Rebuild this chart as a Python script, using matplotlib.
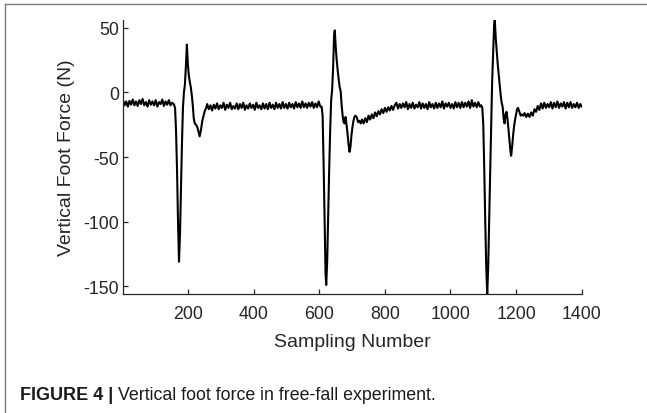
import numpy as np
import matplotlib
matplotlib.use("Agg")
import matplotlib.pyplot as plt
from matplotlib.lines import Line2D

plt.rcParams['font.family'] = ['Liberation Sans', 'DejaVu Sans']

# ---------------- data ----------------
# flat segment before first impact (sample 1..151, every 5 samples)
seg_a_start, seg_a_step = 1, 5
force_a = [-6, -10, -7, -11, -6.5, -9.5, -5.5, -10, -7, -10.5, -6, -9, -5, -10, -7.5, -11,
           -6, -9.5, -7, -10, -6, -11, -7.5, -9, -5.5, -10.5, -7, -9.5, -6, -10, -8]

# first impact
sample_s1 = [156, 160, 163, 166, 169, 172, 175, 178, 181, 184, 187, 190, 193, 196, 199,
             202, 205, 208, 211, 214, 217, 220, 224, 228, 232, 235, 239, 243, 247, 251, 255]
force_s1 = [-9, -12, -30, -60, -100, -131, -110, -75, -40, -12, 0, 6, 20, 37, 22,
            13, 8, 4, -2, -10, -20, -24, -25, -27, -31, -34, -29, -22, -18, -14, -12]

# flat segment between impacts 1 and 2 (sample 258..603)
seg_b_start, seg_b_step = 258, 5
force_b = [-9, -13, -10, -14, -9.5, -12.5, -8.5, -13, -10, -12, -8, -13.5, -9.5, -12, -8, -13, -10.5, -12.5, -8.5, -13,
           -9, -12, -8, -13.5, -10, -12.5, -8.5, -12, -9.5, -13.5, -8, -12, -10, -13, -8.5, -12.5, -9, -13, -8, -12,
           -9.5, -13, -8, -12, -9, -12.5, -7.5, -12, -9, -12.5, -8, -11.5, -9, -12.5, -7.5, -11.5, -8.5, -12, -7, -11.5,
           -8.5, -12, -8, -11, -7.5, -12, -8.5, -11.5, -7, -11]

# second impact
sample_s2 = [607, 610, 613, 616, 619, 621, 624, 627, 630, 633, 636, 639, 642, 645, 647, 650,
             653, 656, 659, 662, 665, 668, 671, 674, 677, 680, 683, 686, 689, 692, 695, 698,
             701, 704, 707, 710, 714, 718, 722, 726]
force_s2 = [-11, -18, -55, -100, -140, -149, -130, -95, -60, -30, -6, 2, 19, 44, 48, 35,
            25, 17, 10, 4, 1, -10, -18, -23, -24, -19, -25, -32, -40, -46, -42, -33,
            -27, -22, -19, -18, -19, -23, -22, -24]

# recovery + flat segment between impacts 2 and 3 (sample 730..1090)
seg_c_start, seg_c_step = 730, 5
force_c = [-21, -24, -20, -23, -18, -21, -17, -20, -15.5, -18.5, -14.5,
           -17, -13, -16, -12, -15, -11.5, -14, -10.5, -13.5, -10,
           -8, -12.5, -9, -12, -8.5, -11.5, -7.5, -13, -9, -12, -8, -12.5, -9.5, -11.5, -7.5, -12.5, -8.5, -12, -9, -13,
           -7.5, -11.5, -9, -12.5, -8, -12, -8.5, -11.5, -7, -12.5, -8.5, -11, -8, -12, -9, -12.5, -7.5, -11.5, -8, -12,
           -7.5, -11.5, -8, -11, -7, -12, -6, -11, -8, -11.5, -7.5, -11]

# third impact
sample_s3 = [1094, 1097, 1100, 1103, 1106, 1109, 1112, 1115, 1118, 1121, 1124, 1127, 1130, 1133,
             1135, 1138, 1141, 1144, 1147, 1150, 1153, 1156, 1159, 1162, 1165, 1168, 1171, 1174,
             1177, 1180, 1183, 1185, 1188, 1191, 1194, 1197, 1200, 1203, 1206, 1210, 1214, 1218, 1222]
force_s3 = [-10, -12, -25, -60, -100, -135, -156, -135, -100, -62, -25, 8, 30, 52,
            56, 42, 32, 22, 14, 6, -2, -8, -11, -20, -24, -17, -15, -21, -29, -38, -46, -49,
            -42, -33, -26, -21, -17, -13, -12, -15, -18, -17, -18]

# flat segment after the third impact (sample 1226..1396) and last sample
seg_d_start, seg_d_step = 1226, 5
force_d = [-16, -19, -16.5, -19, -15.5, -18, -13, -15, -10.5, -13.5, -8.5, -12.5, -8, -12, -9, -11.5, -7.5, -12.5,
           -8, -11.5, -7, -12, -8.5, -11, -7.5, -12.5, -8, -11.5, -7.5, -12, -9, -11.5, -8, -12, -9]
sample_end = [1400]
force_end = [-11]

x_ticks = [200, 400, 600, 800, 1000, 1200, 1400]
y_ticks = [-150, -100, -50, 0, 50]

# ---------------- assemble ----------------
def seg(start, step, vals):
    return list(start + step * np.arange(len(vals))), list(vals)

xa, ya = seg(seg_a_start, seg_a_step, force_a)
xb, yb = seg(seg_b_start, seg_b_step, force_b)
xc, yc = seg(seg_c_start, seg_c_step, force_c)
xd, yd = seg(seg_d_start, seg_d_step, force_d)
x = np.array(xa + sample_s1 + xb + sample_s2 + xc + sample_s3 + xd + sample_end, dtype=float)
y = np.array(ya + force_s1 + yb + force_s2 + yc + force_s3 + yd + force_end, dtype=float)

# ---------------- figure ----------------
fig = plt.figure(figsize=(6.47, 4.14), dpi=100)
ax = fig.add_axes([0.190, 0.2874, 0.709, 0.6618])
ax.plot(x, y, color='black', linewidth=1.5, solid_joinstyle='round')

ax.set_xlim(1, 1400)
ax.set_ylim(y.min(), y.max())
ax.set_xticks(x_ticks)
ax.set_yticks(y_ticks)
ax.set_xticklabels([str(v) for v in x_ticks])
ax.set_yticklabels([str(v) for v in y_ticks])

axis_color = '#262626'
for s in ['top', 'right']:
    ax.spines[s].set_visible(False)
for s in ['left', 'bottom']:
    ax.spines[s].set_color(axis_color)
    ax.spines[s].set_linewidth(0.9)
ax.tick_params(direction='in', length=3.6, width=0.9, color=axis_color,
               labelsize=12.8, labelcolor=axis_color)
ax.tick_params(axis='x', pad=8)
ax.tick_params(axis='y', pad=3)

ax.set_xlabel('Sampling Number', fontsize=14, color=axis_color, labelpad=8)
ax.set_ylabel('Vertical Foot Force (N)', fontsize=14, color=axis_color, labelpad=6)

# figure frame (top and left edges visible)
fig.add_artist(Line2D([4.5 / 647, 1.0], [1 - 4.5 / 414, 1 - 4.5 / 414],
                      transform=fig.transFigure, color='#777777', linewidth=1.0))
fig.add_artist(Line2D([4.5 / 647, 4.5 / 647], [0.0, 1 - 4.5 / 414],
                      transform=fig.transFigure, color='#777777', linewidth=1.0))

# caption
cap_y = 1 - 400 / 414
t1 = fig.text(20 / 647, cap_y, 'FIGURE 4 | ', fontsize=13, fontweight='bold',
              color='#1a1a1a', va='baseline', ha='left')
fig.canvas.draw()
bb = t1.get_window_extent()
fig.text(bb.x1 / fig.bbox.width, cap_y, 'Vertical foot force in free-fall experiment.',
         fontsize=12.8, color='#1a1a1a', va='baseline', ha='left')

fig.savefig('out.png', dpi=100)
